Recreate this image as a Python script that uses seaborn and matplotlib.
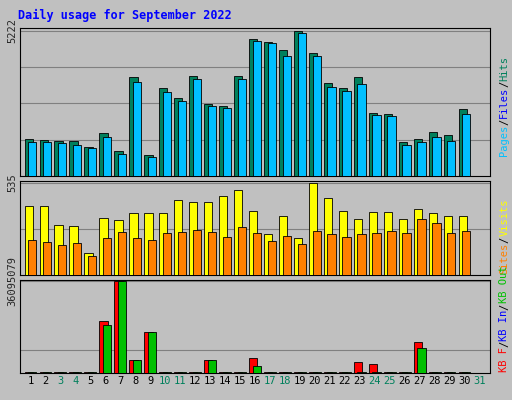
import matplotlib
matplotlib.use('Agg')
import matplotlib.pyplot as plt
import seaborn as sns
import numpy as np

days = list(range(1, 32))
weekend_days = [3, 4, 10, 11, 17, 18, 24, 25, 31]

hits = [1332, 1296, 1260, 1260, 1044, 1548, 900, 3564, 756, 3168, 2808, 3600, 2592, 2520, 3600,
        4932, 4824, 4536, 5222, 4428, 3348, 3168, 3564, 2268, 2232, 1224, 1332, 1584, 1476, 2412, 0]
files = [1224, 1224, 1188, 1116, 1008, 1404, 792, 3384, 684, 3024, 2700, 3492, 2520, 2448, 3492,
         4860, 4788, 4320, 5148, 4320, 3204, 3060, 3312, 2196, 2160, 1116, 1224, 1404, 1260, 2232, 0]
visits = [402, 402, 288, 282, 126, 330, 318, 360, 360, 360, 432, 420, 420, 456, 492,
          372, 234, 342, 216, 535, 444, 372, 324, 366, 366, 324, 384, 360, 342, 342, 0]
sites = [204, 192, 174, 186, 108, 216, 246, 216, 204, 240, 246, 258, 246, 222, 276,
         240, 198, 228, 180, 252, 234, 222, 234, 240, 252, 240, 324, 300, 240, 252, 0]
kb_f = [0.2, 0.2, 0.2, 0.2, 0.2, 20.3, 36.1, 4.9, 16.2, 0.2, 0.2, 0.2, 4.9, 0.2, 0.2,
        5.7, 0.2, 0.2, 0.2, 0.2, 0.2, 0.2, 4.1, 3.6, 0.2, 0.2, 12.2, 0.2, 0.2, 0.2, 0]
kb_in = [0.2, 0.2, 0.2, 0.2, 0.2, 18.7, 36.1, 4.9, 16.2, 0.2, 0.2, 0.2, 4.9, 0.2, 0.2,
         2.8, 0.2, 0.2, 0.2, 0.2, 0.2, 0.2, 0.2, 0.2, 0.2, 0.2, 9.7, 0.2, 0.2, 0.2, 0]

sns.set_style('white')
plt.rcParams['font.family'] = 'DejaVu Sans Mono'

bg = '#c0c0c0'
fig = plt.figure(figsize=(5.12, 4.0), dpi=100, facecolor=bg)
fig.text(0.035, 0.962, 'Daily usage for September 2022', color='#0000ff',
         fontsize=8.5, fontweight='bold', va='center')

left, width = 0.039, 0.918
ax1 = fig.add_axes([left, 0.56, width, 0.37])
ax2 = fig.add_axes([left, 0.313, width, 0.235])
ax3 = fig.add_axes([left, 0.068, width, 0.233])

x = np.array(days)
w = 0.55
off = 0.12


def pair(ax, a, b, ca, cb, top, ticks, labels):
    ax.set_facecolor(bg)
    ax.bar(x - off, a, w, color=ca, edgecolor='black', linewidth=0.6, zorder=3)
    ax.bar(x + off, b, w, color=cb, edgecolor='black', linewidth=0.6, zorder=4)
    ax.set_xlim(0.3, 31.7)
    ax.set_ylim(0, top * 1.02)
    ax.set_yticks(ticks)
    ax.set_yticklabels(labels, rotation=90, va='center', fontsize=7.5)
    ax.tick_params(axis='y', length=0, pad=2)
    ax.grid(axis='y', color='#808080', linewidth=0.8, zorder=0)
    for s in ax.spines.values():
        s.set_color('black')
        s.set_linewidth(0.8)
    ax.set_xticks([])


pair(ax1, hits, files, '#00805c', '#00c0ff', 5222,
     [5222 * k / 4 for k in range(1, 5)], ['', '', '', '5222'])
pair(ax2, visits, sites, '#ffff00', '#ff8000', 535, [535 / 2, 535], ['', '535'])
pair(ax3, kb_f, kb_in, '#ff0000', '#00c000', 36.1, [36.1 / 4, 36.1], ['', '36095079'])

ax3.set_xticks(days)
ax3.set_xticklabels([str(d) for d in days], fontsize=7.5)
ax3.tick_params(axis='x', length=0, pad=2)
for lbl, d in zip(ax3.get_xticklabels(), days):
    lbl.set_color('#00805c' if d in weekend_days else 'black')

renderer = fig.canvas.get_renderer()


def side_legend(y, parts):
    # parts listed bottom to top, stacked using measured text heights
    ypos = y
    for txt, col in parts:
        t = fig.text(0.985, ypos, txt, color=col, rotation=90, fontsize=7.5,
                     ha='center', va='bottom')
        bb = t.get_window_extent(renderer)
        ypos += bb.height / fig.bbox.height


side_legend(0.61, [('Pages', '#00c0ff'), ('/', 'black'), ('Files', '#0000ff'),
                   ('/', 'black'), ('Hits', '#00805c')])
side_legend(0.315, [('Sites', '#ff8000'), ('/', 'black'), ('Visits', '#ffff00')])
side_legend(0.07, [('KB F', '#ff0000'), ('/', 'black'), ('KB In', '#0000ff'),
                   ('/', 'black'), ('KB Out', '#00c000')])

fig.savefig('out.png', dpi=100, facecolor=bg)
